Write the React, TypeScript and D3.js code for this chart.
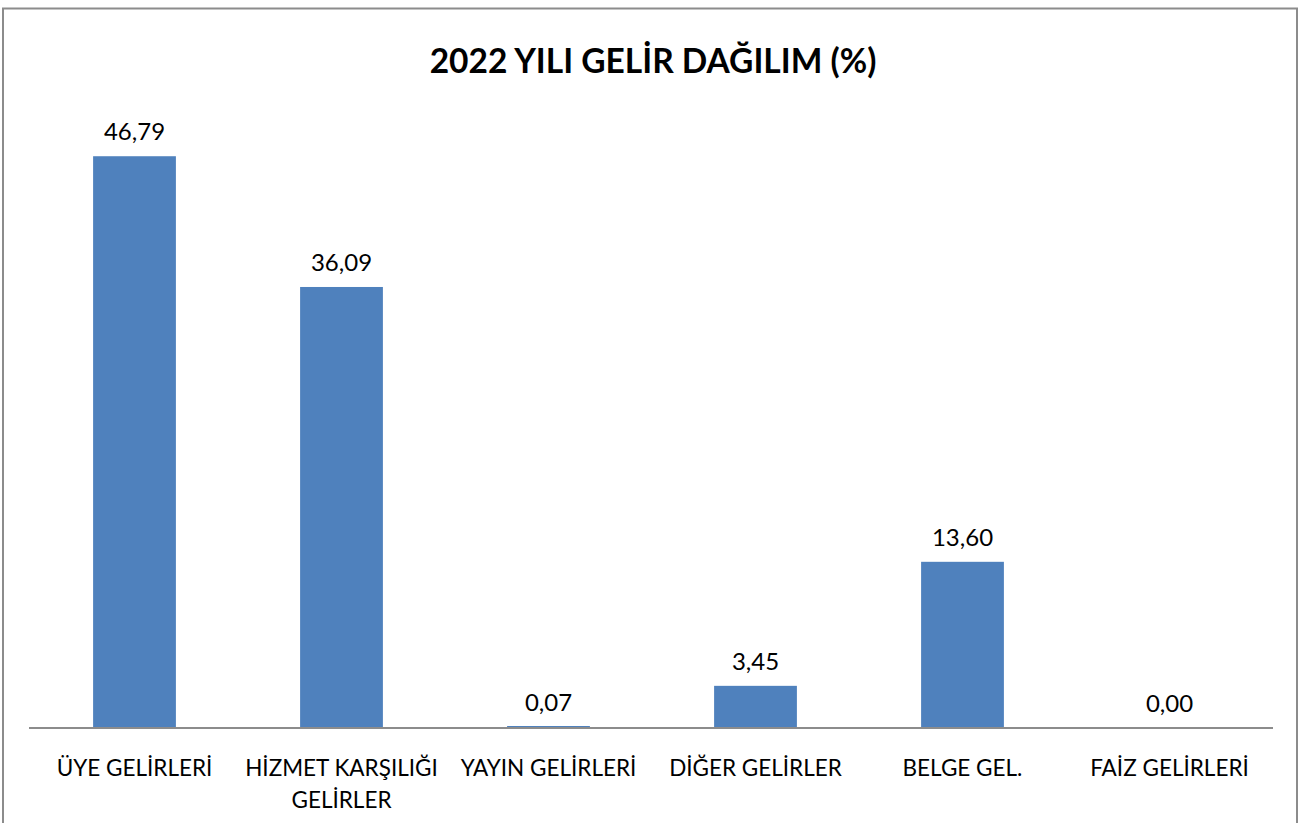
import React from "react";
import * as d3 from "d3";

const title = "2022 YILI GELİR DAĞILIM (%)";
const categories: string[][] = [
  ["ÜYE GELİRLERİ"],
  ["HİZMET KARŞILIĞI", "GELİRLER"],
  ["YAYIN GELİRLERİ"],
  ["DİĞER GELİRLER"],
  ["BELGE GEL."],
  ["FAİZ GELİRLERİ"],
];
const values = [46.79, 36.09, 0.07, 3.45, 13.6, 0.0];
const labels = ["46,79", "36,09", "0,07", "3,45", "13,60", "0,00"];

const W = 1305;
const H = 823;
const FONT = "Lato, 'Open Sans', sans-serif";

export default function App() {
  const x = d3
    .scaleBand<number>()
    .domain(d3.range(values.length))
    .range([31, 1273])
    .paddingInner(0.6)
    .paddingOuter(0.3);
  const y = d3.scaleLinear().domain([0, 50]).range([728, 117]);

  return (
    <svg
      width={W}
      height={H}
      style={{ position: "absolute", left: 0, top: 0, background: "#fff" }}
    >
      <rect x={3} y={8.5} width={1294} height={830} fill="#fff" stroke="#8c8c8c" strokeWidth={2} />
      <text
        x={653}
        y={73}
        textAnchor="middle"
        fontFamily={FONT}
        fontWeight="bold"
        fontSize={33.5}
        fill="#000"
      >
        {title}
      </text>
      {values.map((v, i) => {
        const bx = x(i)!;
        const bw = x.bandwidth();
        const top = Math.min(y(v), y(0) - (v > 0 ? 2 : 0));
        return (
          <g key={i}>
            <rect x={bx} y={top} width={bw} height={y(0) - top} fill="#4F81BD" />
            <text
              x={bx + bw / 2}
              y={y(v) - 16}
              textAnchor="middle"
              fontFamily={FONT}
              fontSize={24}
              fill="#000"
            >
              {labels[i]}
            </text>
          </g>
        );
      })}
      <line x1={29} x2={1273} y1={728} y2={728} stroke="#8c8c8c" strokeWidth={2} />
      {categories.map((lines, i) => (
        <text
          key={i}
          x={x(i)! + x.bandwidth() / 2}
          y={776}
          textAnchor="middle"
          fontFamily={FONT}
          fontSize={22.5}
          fill="#000"
        >
          {lines.map((l, j) => (
            <tspan key={j} x={x(i)! + x.bandwidth() / 2} dy={j === 0 ? 0 : 32}>
              {l}
            </tspan>
          ))}
        </text>
      ))}
    </svg>
  );
}
